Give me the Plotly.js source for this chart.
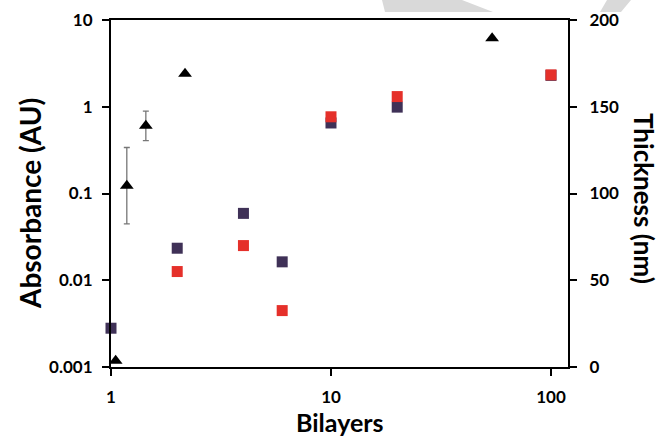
<!DOCTYPE html>
<html>
<head>
<meta charset="utf-8">
<script src="https://cdn.plot.ly/plotly-3.0.1.min.js"></script>
<style>html,body{margin:0;padding:0;background:#fff;}#chart{width:662px;height:439px;}</style>
</head>
<body>
<div id="chart"></div>
<script>
// Absorbance (left log axis)
const bilayersPurple = [1, 2, 4, 6, 10, 20, 100];
const absorbancePurple = [0.0028, 0.0234, 0.059, 0.0163, 0.65, 0.99, 2.3];
const bilayersRed = [2, 4, 6, 10, 20, 100];
const absorbanceRed = [0.0126, 0.0251, 0.00447, 0.766, 1.31, 2.33];
// Thickness (right linear axis)
const bilayersThick = [1.05, 1.18, 1.44, 2.17, 54];
const thickness = [3.6, 104.5, 139, 169, 189.5];
const thicknessErr = [0, 22, 8.5, 0, 0];
// Tick labels
const xTickVals = [1, 10, 100];
const xTickText = ['1', '10', '100'];
const yTickVals = [0.001, 0.01, 0.1, 1, 10];
const yTickText = ['0.001', '0.01', '0.1', '1', '10'];
const y2TickVals = [0, 50, 100, 150, 200];

const FONT = 'Lato, "Open Sans", sans-serif';
const L = 111, R = 568, T = 20, B = 367, W = 662, H = 439;
const px = v => (v - L) / (R - L);
const py = v => (B - v) / (B - T);
const tickFont = {family: FONT, size: 17, color: '#000', weight: 'bold'};

const traces = [
  {
    x: bilayersPurple, y: absorbancePurple, type: 'scatter', mode: 'markers',
    marker: {symbol: 'square', size: 11, color: '#3f3157'},
    xaxis: 'x', yaxis: 'y', showlegend: false, cliponaxis: false
  },
  {
    x: bilayersRed, y: absorbanceRed, type: 'scatter', mode: 'markers',
    marker: {symbol: 'square', size: 11, color: '#e5302a'},
    xaxis: 'x', yaxis: 'y', showlegend: false, cliponaxis: false
  },
  {
    x: bilayersThick, y: thickness, type: 'scatter', mode: 'markers',
    marker: {symbol: 'triangle-up', size: 12, color: '#000'},
    error_y: {type: 'data', array: thicknessErr, visible: true, color: '#777', thickness: 1.3, width: 3},
    xaxis: 'x', yaxis: 'y2', showlegend: false, cliponaxis: false
  }
];

const layout = {
  width: W, height: H,
  margin: {l: L, r: W - R, t: T, b: H - B, pad: 0},
  paper_bgcolor: '#fff', plot_bgcolor: '#fff',
  font: {family: FONT, color: '#000'},
  xaxis: {
    type: 'log', range: [0, Math.log10(119.5)],
    tickvals: xTickVals, ticktext: xTickText,
    ticks: 'outside', ticklen: 7, tickwidth: 2, tickcolor: '#000',
    showline: true, linecolor: '#000', linewidth: 2, mirror: true,
    showgrid: false, zeroline: false,
    tickfont: tickFont, ticklabelstandoff: 7
  },
  yaxis: {
    type: 'log', range: [-3, 1],
    tickvals: yTickVals, ticktext: yTickText,
    ticks: 'outside', ticklen: 7, tickwidth: 2, tickcolor: '#000',
    showline: true, linecolor: '#000', linewidth: 2,
    showgrid: false, zeroline: false,
    tickfont: tickFont, ticklabelstandoff: 6
  },
  yaxis2: {
    overlaying: 'y', side: 'right', range: [0, 200],
    tickvals: y2TickVals,
    ticks: 'outside', ticklen: 7, tickwidth: 2, tickcolor: '#000',
    showline: true, linecolor: '#000', linewidth: 2,
    showgrid: false, zeroline: false,
    tickfont: tickFont, ticklabelstandoff: 9
  },
  annotations: [
    {
      text: 'Bilayers', showarrow: false, borderpad: 0,
      xref: 'paper', yref: 'paper', x: px(340), y: py(438), xanchor: 'center', yanchor: 'bottom',
      font: {family: FONT, size: 25, color: '#000', weight: 'bold'}
    },
    {
      text: 'Absorbance (AU)', textangle: -90, showarrow: false,
      xref: 'paper', yref: 'paper', x: px(30), y: py(204), xanchor: 'center', yanchor: 'middle',
      font: {family: FONT, size: 28, color: '#000', weight: 'bold'}
    },
    {
      text: 'Thickness (nm)', textangle: 90, showarrow: false, borderpad: 0,
      xref: 'paper', yref: 'paper', x: px(644), y: py(198), xanchor: 'center', yanchor: 'middle',
      font: {family: FONT, size: 26, color: '#000', weight: 'bold'}
    }
  ],
  shapes: [
    {type: 'path', xref: 'paper', yref: 'paper', layer: 'below', line: {width: 0}, fillcolor: '#d9d9d9',
     path: `M ${px(382)} ${py(0)} L ${px(462)} ${py(0)} L ${px(493)} ${py(12)} L ${px(385)} ${py(12)} Z`},
    {type: 'path', xref: 'paper', yref: 'paper', layer: 'below', line: {width: 0}, fillcolor: '#d9d9d9',
     path: `M ${px(607)} ${py(0)} L ${px(631)} ${py(0)} L ${px(621)} ${py(12)} L ${px(600)} ${py(12)} Z`}
  ]
};

Plotly.newPlot('chart', traces, layout, {displayModeBar: false, staticPlot: true});
</script>
</body>
</html>
